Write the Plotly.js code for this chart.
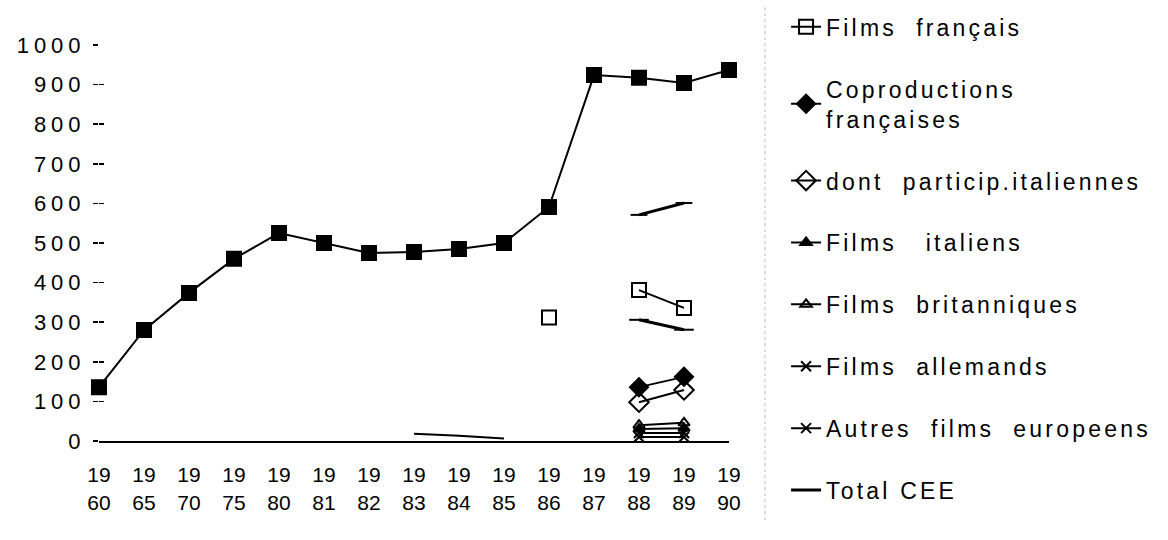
<!DOCTYPE html>
<html>
<head>
<meta charset="utf-8">
<script src="https://cdn.plot.ly/plotly-3.0.1.min.js"></script>
<style>
  html, body { margin: 0; padding: 0; background: #fff; }
  #chart { width: 1168px; height: 540px; }
  .yaxislayer-above .ytick text { letter-spacing: 5px; }
  .legendtext { letter-spacing: 3.2px; }
</style>
</head>
<body>
<div id="chart"></div>
<script>
// Categories and tick labels
const years = ['1960','1965','1970','1975','1980','1981','1982','1983','1984','1985','1986','1987','1988','1989','1990'];
const tickLabels = ['19<br>60','19<br>65','19<br>70','19<br>75','19<br>80','19<br>81','19<br>82','19<br>83','19<br>84','19<br>85','19<br>86','19<br>87','19<br>88','19<br>89','19<br>90'];
const yTicks = [0,100,200,300,400,500,600,700,800,900,1000];

// Series values
const ensemble        = [136,280,374,460,525,500,475,477,485,500,591,924,917,904,937];
const filmsFrancais   = [null,null,null,null,null,null,null,null,null,null,312,null,381,336,null];
const coproductions   = [null,null,null,null,null,null,null,null,null,null,null,null,136,162,null];
const dontItaliennes  = [null,null,null,null,null,null,null,null,null,null,null,null,98,129,null];
const filmsItaliens   = [null,null,null,null,null,null,null,null,null,null,null,null,30,32,null];
const filmsBritann    = [null,null,null,null,null,null,null,null,null,null,null,null,40,46,null];
const filmsAllemands  = [null,null,null,null,null,null,null,null,null,null,null,null,20,20,null];
const autresEuropeens = [null,null,null,null,null,null,null,null,null,null,null,null,10,10,null];
const totalCEE        = [null,null,null,null,null,null,null,null,null,null,null,null,571,601,null];
const serieSansNom    = [null,null,null,null,null,null,null,null,null,null,null,null,306,281,null];
const petiteSerie     = [null,null,null,null,null,null,null,18,13,6,null,null,null,null,null];

const FONT = 'Liberation Sans, Arial, Helvetica, sans-serif';
const ln = {color: '#000', width: 2};
const NB = '\u00a0';

function tr(name, y, symbol, size, opts) {
  return Object.assign({
    type: 'scatter', mode: 'lines+markers', name: name, x: years, y: y,
    legendgroup: name, connectgaps: false, cliponaxis: false,
    line: ln,
    marker: {symbol: symbol, size: size, color: '#000', line: {color: '#000', width: 2}}
  }, opts || {});
}

const traces = [
  tr('Ensemble', ensemble, 'square', 14, {showlegend: false}),
  tr('Série', serieSansNom, 'line-ew', 14, {showlegend: false, line: {color: '#000', width: 3}}),
  tr('Série 2', petiteSerie, 'circle', 1, {showlegend: false, mode: 'lines', line: {color: '#000', width: 2}}),
  tr('Films' + NB + ' français', filmsFrancais, 'square-open', 14),
  tr('Coproductions<br>françaises', coproductions, 'diamond', 14),
  tr('dont' + NB + ' particip.italiennes', dontItaliennes, 'diamond-open', 15),
  tr('Films' + NB + NB + ' italiens', filmsItaliens, 'triangle-up', 10),
  tr('Films' + NB + ' britanniques', filmsBritann, 'triangle-up-open', 10),
  tr('Films' + NB + ' allemands', filmsAllemands, 'x-thin-open', 10),
  tr('Autres' + NB + ' films' + NB + ' europeens', autresEuropeens, 'x-thin-open', 10),
  tr('Total CEE', totalCEE, 'line-ew-open', 12, {line: {color: '#000', width: 3}})
];

const layout = {
  width: 1168, height: 540,
  margin: {l: 99, r: 439, t: 45, b: 99, pad: 0},
  paper_bgcolor: '#fff', plot_bgcolor: '#fff',
  font: {family: FONT, color: '#000', size: 21},
  showlegend: true,
  legend: {
    xref: 'container', yref: 'container',
    x: 0.673, y: 0.99, xanchor: 'left', yanchor: 'top',
    traceorder: 'grouped', tracegroupgap: 29,
    font: {family: FONT, size: 23, color: '#000'},
    bgcolor: 'rgba(0,0,0,0)', borderwidth: 0,
    itemwidth: 30, maxheight: 600
  },
  xaxis: {
    type: 'category', range: [0, 14],
    tickvals: years, ticktext: tickLabels,
    ticks: '', showgrid: false, zeroline: false,
    showline: true, linecolor: '#000', linewidth: 2,
    tickfont: {family: FONT, size: 21, color: '#000'},
    ticklabelstandoff: 14
  },
  yaxis: {
    range: [0, 1000], tickvals: yTicks,
    ticks: 'outside', ticklen: 5, tickwidth: 1.5, tickcolor: '#000',
    showgrid: false, zeroline: false, showline: false,
    tickfont: {family: FONT, size: 22, color: '#000'},
    ticklabelstandoff: 3
  },
  yaxis2: {
    overlaying: 'y', matches: 'y', side: 'left',
    range: [0, 1000], tickvals: yTicks,
    ticks: 'inside', ticklen: 5, tickwidth: 1.5, tickcolor: '#000',
    showticklabels: false, showgrid: false, zeroline: false, showline: false
  },
  shapes: [{
    type: 'line', xref: 'paper', yref: 'paper',
    x0: 1.0 + (765 - 729) / 630, x1: 1.0 + (765 - 729) / 630,
    y0: -0.2, y1: 1.1,
    line: {color: '#bbb', width: 1, dash: 'dot'}
  }]
};

// dummy trace to show the inner ticks on yaxis2
traces.push({type: 'scatter', x: [years[0]], y: [null], yaxis: 'y2', showlegend: false, hoverinfo: 'skip'});

Plotly.newPlot('chart', traces, layout, {displayModeBar: false, staticPlot: true});
</script>
</body>
</html>
